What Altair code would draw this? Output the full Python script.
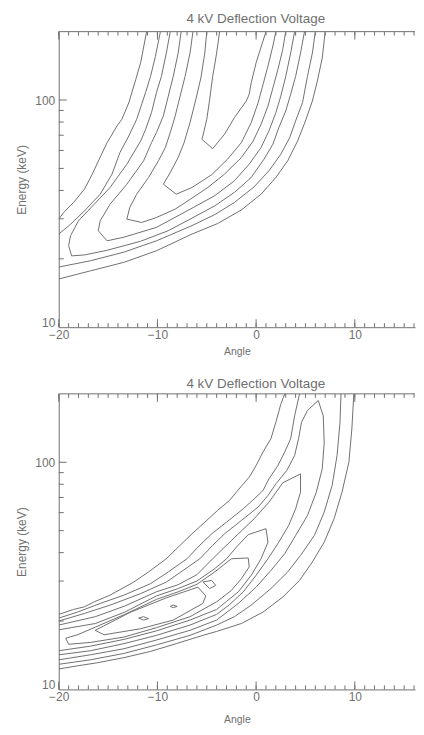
import altair as alt
import pandas as pd

TITLE = "4 kV Deflection Voltage"
X_TITLE = "Angle"
Y_TITLE = "Energy (keV)"

# axis values / tick positions
X_LABELS = [-20, -10, 0, 10]
Y_LABELS = [10, 100]
X_MINOR_TICKS = [-20, -19, -18, -17, -16, -15, -14, -13, -12, -11, -10, -9, -8, -7, -6, -5, -4,
                 -3, -2, -1, 0, 1, 2, 3, 4, 5, 6, 7, 8, 9, 10, 11, 12, 13, 14, 15, 16]
X_MAJOR_TICKS = [-20, -10, 0, 10]
Y_MINOR_TICKS = [20, 30, 40, 50, 60, 70, 80, 90]
Y_MAJOR_TICKS = [100]
ANGLE_DOMAIN = [-20, 16.1]
ENERGY_DOMAIN = [10, 200]

# ---------- upper panel contours: (angle, energy keV) ----------
TOP_1_LEFT = [(-11.1, 200), (-11.7, 146), (-12.2, 123), (-12.9, 97.3), (-13.6, 82.3), (-14.1, 76.9),
              (-15.1, 64.9), (-15.9, 54.9), (-16.6, 47.2), (-17.4, 40.5), (-18.5, 35.4), (-19.5, 32.0),
              (-20.0, 29.9)]
TOP_1_RIGHT = [(-20.0, 16.3), (-16.8, 17.7), (-13.4, 19.3), (-10.1, 21.7), (-6.5, 25.7), (-3.9, 28.6),
               (-1.5, 32.8), (0.5, 38.5), (2.0, 45.6), (3.2, 54.0), (4.2, 66.0), (5.0, 80.9), (5.7, 99.0),
               (6.2, 121), (6.7, 153), (7.0, 200)]
TOP_2_LEFT = [(-9.7, 200), (-10.2, 156), (-10.7, 127), (-11.2, 108), (-12.1, 82.3), (-12.9, 69.5),
              (-13.8, 58.7), (-14.6, 47.2), (-15.8, 38.5), (-17.4, 32.5), (-18.8, 28.4), (-20.0, 25.7)]
TOP_2_RIGHT = [(-20.0, 18.4), (-16.8, 19.6), (-13.4, 21.4), (-10.1, 24.0), (-6.5, 28.0), (-4.2, 31.3),
               (-2.2, 35.4), (-0.2, 41.5), (1.3, 48.8), (2.5, 57.7), (3.4, 68.3), (4.0, 80.9), (4.7, 97.3),
               (5.2, 127), (5.7, 161), (6.0, 200)]
TOP_3 = [(-8.7, 200), (-9.1, 161), (-9.6, 127), (-10.1, 108), (-10.6, 88.0), (-11.2, 74.3), (-11.7, 66.0),
         (-13.1, 52.2), (-14.8, 41.2), (-16.4, 34.8), (-18.0, 29.4), (-18.8, 25.3), (-19.0, 22.9),
         (-18.7, 20.6), (-17.4, 20.8), (-15.1, 21.8), (-11.7, 23.9), (-8.9, 26.6), (-6.5, 30.2),
         (-4.2, 34.2), (-2.2, 39.2), (-0.5, 45.6), (0.8, 54.9), (1.7, 63.9), (2.3, 75.6), (3.0, 89.5),
         (3.5, 106), (4.0, 127), (4.5, 161), (4.9, 200)]
TOP_4 = [(-7.6, 200), (-7.9, 161), (-8.4, 127), (-8.9, 104), (-9.4, 85.1), (-10.1, 71.9), (-10.6, 64.9),
         (-11.4, 54.0), (-13.1, 42.6), (-14.8, 34.8), (-15.8, 29.4), (-16.0, 26.6), (-15.1, 24.0),
         (-13.4, 24.9), (-10.1, 27.5), (-6.5, 33.4), (-4.2, 37.9), (-2.2, 44.1), (-0.7, 52.2), (0.5, 61.8),
         (1.3, 73.1), (2.0, 88.0), (2.5, 104), (3.0, 127), (3.5, 161), (3.9, 200)]
TOP_5 = [(-6.4, 200), (-6.7, 161), (-7.2, 127), (-7.7, 104), (-8.2, 85.1), (-8.7, 71.9), (-9.2, 61.8),
         (-9.9, 54.0), (-10.9, 45.6), (-12.1, 38.5), (-12.8, 33.7), (-13.1, 29.9), (-11.6, 28.9),
         (-10.1, 30.4), (-8.2, 33.1), (-6.5, 37.0), (-4.9, 41.2), (-3.2, 47.2), (-1.5, 55.8), (-0.3, 66.0),
         (0.5, 78.2), (1.2, 94.1), (1.7, 113), (2.2, 136), (2.7, 167), (3.0, 200)]
TOP_6 = [(-5.0, 200), (-5.2, 161), (-5.6, 125), (-6.1, 101), (-6.7, 79.5), (-7.3, 64.9), (-7.9, 55.8),
         (-8.7, 48.0), (-9.4, 42.6), (-8.1, 38.5), (-6.5, 41.2), (-4.5, 46.9), (-2.9, 54.9), (-1.5, 64.9),
         (-0.5, 79.5), (0.2, 97.3), (0.7, 117), (1.2, 141), (1.7, 173), (2.0, 200)]
TOP_7 = [(-3.7, 200), (-4.0, 161), (-4.4, 127), (-4.7, 101), (-5.0, 82.3), (-5.4, 69.5), (-5.5, 67.2),
         (-4.4, 61.1), (-3.2, 70.7), (-2.2, 83.6), (-1.0, 99.0), (-0.7, 106), (-0.5, 119), (0.0, 146),
         (0.7, 182), (1.0, 200)]

# ---------- lower panel contours ----------
BOT_1_UPPER = [(-20.0, 21.4), (-18.5, 22.5), (-17.4, 23.1), (-16.4, 24.3), (-14.8, 26.0), (-12.4, 29.7),
               (-10.9, 32.9), (-9.1, 37.6), (-7.9, 42.3), (-6.5, 48.4), (-5.2, 54.5), (-3.9, 61.4),
               (-2.7, 67.9), (-2.0, 73.8), (-1.3, 80.3), (-0.7, 85.9), (0.0, 96.7), (0.7, 111), (1.5, 127),
               (2.0, 150), (2.5, 180), (2.9, 200)]
BOT_1_LOWER = [(-20.0, 12.3), (-18.1, 12.7), (-16.1, 13.1), (-13.4, 13.8), (-10.7, 14.7), (-8.1, 15.9),
               (-5.4, 17.3), (-4.0, 18.0), (-1.5, 19.5), (0.7, 21.9), (2.7, 25.5), (4.4, 30.2), (5.7, 36.4),
               (6.9, 44.5), (7.9, 56.4), (8.7, 73.8), (9.4, 100), (9.7, 140), (9.9, 200)]
BOT_2_UPPER = [(-20.0, 20.6), (-18.1, 21.9), (-15.8, 23.9), (-13.4, 26.0), (-10.7, 29.2), (-8.9, 32.9),
               (-7.0, 37.6), (-5.9, 42.3), (-4.5, 48.4), (-3.0, 54.5), (-1.3, 62.4), (-0.2, 69.0), (0.7, 75.1),
               (1.3, 84.5), (2.2, 96.7), (2.9, 111), (3.5, 127), (3.9, 160), (4.4, 200)]
BOT_2_LOWER = [(-20.0, 12.9), (-16.8, 13.5), (-13.4, 14.4), (-10.1, 15.7), (-6.7, 17.3), (-4.0, 19.2),
               (-2.2, 20.9), (-0.5, 23.5), (1.5, 27.8), (3.2, 32.9), (4.5, 38.9), (5.9, 47.6), (6.9, 60.3),
               (7.7, 79.0), (8.2, 107), (8.5, 150), (8.6, 200)]
BOT_3 = [(-20.0, 20.0), (-17.4, 21.6), (-14.8, 23.5), (-11.7, 26.4), (-9.1, 29.7), (-7.4, 33.4), (-5.7, 37.6),
         (-4.4, 43.1), (-3.2, 48.4), (-1.5, 55.4), (0.2, 63.5), (1.2, 71.4), (2.0, 80.3), (3.1, 91.9),
         (3.9, 107), (4.3, 127), (4.6, 150), (5.2, 169), (6.3, 187), (6.8, 160), (6.9, 122), (6.7, 93.5),
         (6.1, 73.8), (5.2, 58.3), (4.0, 47.6), (2.9, 39.6), (1.5, 33.4), (0.0, 28.2), (-1.8, 23.9),
         (-4.0, 20.2), (-6.7, 18.2), (-10.1, 16.5), (-13.4, 15.1), (-16.8, 14.2), (-20.0, 13.5)]
BOT_4 = [(-20.0, 19.2), (-16.3, 20.9), (-13.3, 23.3), (-10.1, 26.9), (-7.9, 28.9), (-6.0, 32.0), (-4.4, 37.6),
         (-3.2, 42.3), (-1.8, 48.4), (-0.2, 56.4), (1.3, 66.7), (2.7, 81.2), (4.5, 88.9), (4.5, 73.8),
         (4.0, 62.4), (3.3, 52.7), (2.3, 44.5), (1.2, 37.6), (0.0, 31.8), (-1.3, 26.9), (-2.7, 23.6),
         (-4.0, 21.4), (-6.7, 19.2), (-10.1, 17.3), (-13.4, 15.9), (-16.8, 14.8), (-20.0, 14.2)]
BOT_5 = [(-20.0, 18.3), (-16.3, 19.5), (-13.3, 21.9), (-10.1, 25.8), (-7.9, 27.8), (-6.0, 30.0), (-4.2, 34.0),
         (-3.0, 37.6), (-2.0, 42.3), (-0.8, 48.0), (1.0, 51.0), (1.2, 44.5), (0.5, 37.6), (-0.5, 31.8),
         (-1.8, 26.9), (-3.0, 24.4), (-4.0, 22.5), (-6.7, 20.2), (-10.1, 18.1), (-13.4, 16.6), (-16.8, 15.5),
         (-20.0, 14.8)]
BOT_6 = [(-19.3, 16.8), (-18.1, 17.4), (-16.3, 18.8), (-13.3, 21.4), (-10.1, 24.9), (-7.9, 26.9), (-6.0, 29.0),
         (-4.2, 32.9), (-2.5, 37.6), (-0.8, 37.9), (-0.7, 34.6), (-1.5, 30.7), (-2.5, 27.3), (-4.0, 24.3),
         (-6.7, 20.9), (-10.1, 18.7), (-13.4, 17.0), (-16.8, 16.1), (-19.0, 15.8), (-19.3, 16.8)]
BOT_7 = [(-16.3, 18.2), (-15.4, 17.4), (-11.7, 18.5), (-8.4, 20.2), (-5.4, 23.9), (-5.1, 25.8), (-5.9, 28.2),
         (-9.1, 25.3), (-12.8, 21.8), (-16.3, 18.2)]
BOT_7_SMALL = [(-5.4, 29.7), (-4.5, 30.2), (-4.1, 28.7), (-4.7, 27.8), (-5.4, 29.7)]
BOT_8_A = [(-11.9, 20.6), (-11.4, 20.9), (-10.9, 20.5), (-11.4, 20.2), (-11.9, 20.6)]
BOT_8_B = [(-8.7, 23.2), (-8.4, 23.5), (-8.0, 23.2), (-8.4, 22.9), (-8.7, 23.2)]

TOP_SEGMENTS = {"t1l": TOP_1_LEFT, "t1r": TOP_1_RIGHT, "t2l": TOP_2_LEFT, "t2r": TOP_2_RIGHT,
                "t3": TOP_3, "t4": TOP_4, "t5": TOP_5, "t6": TOP_6, "t7": TOP_7}
BOT_SEGMENTS = {"b1u": BOT_1_UPPER, "b1l": BOT_1_LOWER, "b2u": BOT_2_UPPER, "b2l": BOT_2_LOWER,
                "b3": BOT_3, "b4": BOT_4, "b5": BOT_5, "b6": BOT_6, "b7": BOT_7, "b7s": BOT_7_SMALL,
                "b8a": BOT_8_A, "b8b": BOT_8_B}

W, H = 358, 297
INK = "#707070"
TXT = "#707070"
FONT = "Liberation Sans"


def panel(segments, title_offset, xtitle_pad):
    rows = []
    for name, pts in segments.items():
        for i, (a, e) in enumerate(pts):
            rows.append({"seg": name, "i": i, "angle": a, "energy": e})
    df = pd.DataFrame(rows)

    xs = alt.Scale(domain=ANGLE_DOMAIN, nice=False, zero=False)
    ys = alt.Scale(type="log", domain=ENERGY_DOMAIN, nice=False)
    xaxis = alt.Axis(values=X_LABELS, ticks=False, tickSize=0, grid=False, labelPadding=2,
                     labelFlush=False, format="d", title=X_TITLE, titlePadding=xtitle_pad,
                     titleFontSize=10.5)
    yaxis = alt.Axis(values=Y_LABELS, ticks=False, tickSize=0, grid=False, labelPadding=4,
                     labelFlush=True, labelFlushOffset=2,
                     format="d", title=Y_TITLE, titlePadding=6, titleFontSize=12)
    X = alt.X("angle:Q", scale=xs, axis=xaxis)
    Y = alt.Y("energy:Q", scale=ys, axis=yaxis)

    lines = alt.Chart(df).mark_line(color=INK, strokeWidth=1, clip=True).encode(
        x=X, y=Y, detail="seg:N", order="i:Q")

    def xt(vals, y0, y1):
        return alt.Chart(pd.DataFrame({"angle": vals})).mark_rule(color=INK, strokeWidth=1).encode(
            x=X, y=alt.value(y0), y2=alt.value(y1))

    def yt(vals, length):
        return alt.Chart(pd.DataFrame({"energy": vals})).mark_rule(color=INK, strokeWidth=1).encode(
            y=Y, x=alt.value(0), x2=alt.value(length))

    border = alt.Chart(pd.DataFrame({"edge": ["top"]})).mark_rule(color=INK, strokeWidth=1).encode(
        x=alt.value(0), x2=alt.value(W), y=alt.value(0))

    return alt.layer(
        lines,
        xt(X_MINOR_TICKS, H, H - 4), xt(X_MAJOR_TICKS, H, H - 8),
        xt(X_MINOR_TICKS, 0, 4), xt(X_MAJOR_TICKS, 0, 8),
        yt(Y_MINOR_TICKS, 5), yt(Y_MAJOR_TICKS, 8),
        border,
    ).properties(
        width=W, height=H,
        title=alt.TitleParams(TITLE, fontSize=13.5, font=FONT, fontWeight="normal", color=TXT,
                              offset=title_offset, dx=19, anchor="middle", frame="group"),
    )


top = panel(TOP_SEGMENTS, 6, 6)
bottom = panel(BOT_SEGMENTS, 3, 12)

chart = alt.vconcat(top, bottom, spacing=20).properties(
    padding={"left": 7, "top": 2, "right": 0, "bottom": 0}
).configure_view(strokeWidth=0).configure_axis(
    labelFont=FONT, titleFont=FONT, labelColor=TXT, titleColor=TXT, domainColor=INK,
    labelFontSize=12, titleFontWeight="normal", domainWidth=1
)

chart.save("out.html", embed_options={"renderer": "svg", "actions": False})
